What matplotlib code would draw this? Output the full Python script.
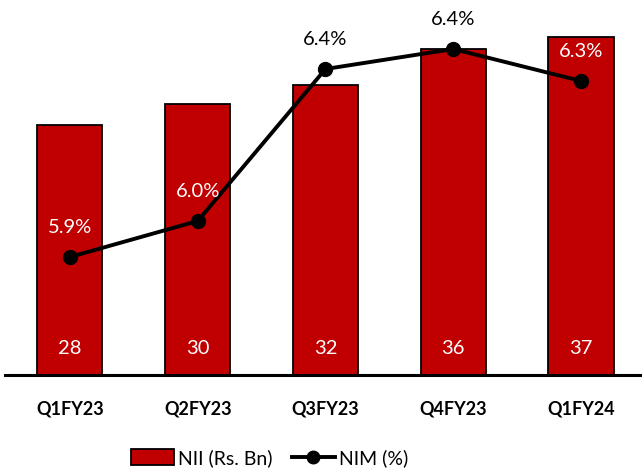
import matplotlib
matplotlib.use('Agg')
import matplotlib.pyplot as plt
from matplotlib.lines import Line2D
from matplotlib.patches import Patch

quarters = ['Q1FY23', 'Q2FY23', 'Q3FY23', 'Q4FY23', 'Q1FY24']
nii = [27.6, 30.0, 32.0, 36.0, 37.4]
nim = [5.90, 5.99, 6.37, 6.42, 6.34]

plt.rcParams['font.family'] = ['Lato', 'DejaVu Sans']

fig = plt.figure(figsize=(6.42, 4.73), dpi=100)
ax = fig.add_axes([5 / 642, 98 / 473, 637 / 642, 375 / 473])
x = list(range(len(quarters)))

bars = ax.bar(x, nii, width=0.51, color='#C00000', edgecolor='black', linewidth=1.3, zorder=2)
ax.set_xlim(-0.508, 4.477)
ax.set_ylim(0, 41.44)
for xi, v in zip(x, nii):
    ax.text(xi, 2.9, '%.0f' % v, color='white', ha='center', va='center', fontsize=14.5, zorder=5)

for s in ['top', 'right', 'left']:
    ax.spines[s].set_visible(False)
ax.spines['bottom'].set_linewidth(2.2)
ax.set_yticks([])
ax.set_xticks(x)
ax.set_xticklabels(quarters, fontsize=13, fontweight='bold')
ax.tick_params(axis='x', length=0, pad=18)

ax2 = ax.twinx()
ax2.set_ylim(5.605, 6.5425)
ax2.plot(x, nim, color='black', linewidth=2.8, marker='o', markersize=10, zorder=4)
ax2.axis('off')

# label colour depends on whether it sits on top of a bar
for xi, v, b in zip(x, nim, nii):
    y_disp = ax2.transData.transform((xi, v))[1] + 30
    bar_top = ax.transData.transform((xi, b))[1]
    col = 'white' if y_disp < bar_top - 8 else 'black'
    ax2.annotate('%.1f%%' % v, (xi, v), xytext=(0, 21.6), textcoords='offset points',
                 ha='center', va='center', fontsize=14.5, color=col, zorder=6)

handles = [Patch(facecolor='#C00000', edgecolor='black', linewidth=1.3),
           Line2D([0], [0], color='black', linewidth=2.8, marker='o', markersize=9)]
fig.legend(handles, ['NII (Rs. Bn)', 'NIM (%)'], loc='center', bbox_to_anchor=(0.42, 0.032),
           ncol=2, frameon=False, fontsize=14, handlelength=2.2, handleheight=0.85,
           handletextpad=0.2, columnspacing=1.0)

fig.savefig('out.png', dpi=100)
